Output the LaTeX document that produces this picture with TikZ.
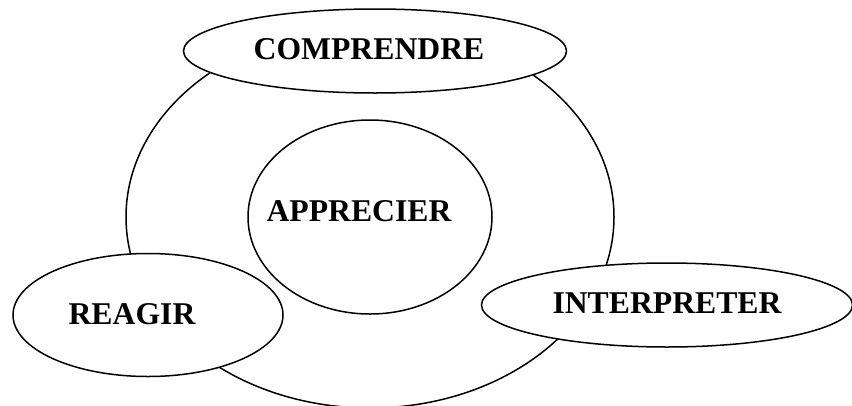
\documentclass[tikz,border=0pt]{standalone}
\usepackage{fontspec}
\setmainfont{Liberation Serif}
\usetikzlibrary{shapes.geometric}

\begin{document}
\begin{tikzpicture}[x=1pt, y=-1pt,
  ring/.style={draw, ellipse, line width=1.5pt, inner sep=0pt, fill=white},
  word/.style={font=\fontsize{31.7}{38}\selectfont\bfseries, inner sep=0pt}]
			\useasboundingbox (0,0) rectangle (852,405);
			
			\node[ring, fill=none, minimum width=488pt, minimum height=382pt] (outer) at (370,217) {};
			\node[ring, minimum width=244pt, minimum height=194pt] (app) at (370,217) {};
			
			\node[ring, minimum width=383pt, minimum height=84pt] (comp) at (375,51) {};
			\node[ring, minimum width=270pt, minimum height=123pt] (reag) at (148,315) {};
			\node[ring, minimum width=371pt, minimum height=84pt] (interp) at (667,305) {};
			
			\node[word] (tapp) at (359,211) {APPRECIER};
			\node[word] (tcomp) at (369,49) {COMPRENDRE};
			\node[word] (treag) at (132,314) {REAGIR};
			\node[word] (tinterp) at (667,303) {INTERPRETER};
		\end{tikzpicture}
\end{document}
